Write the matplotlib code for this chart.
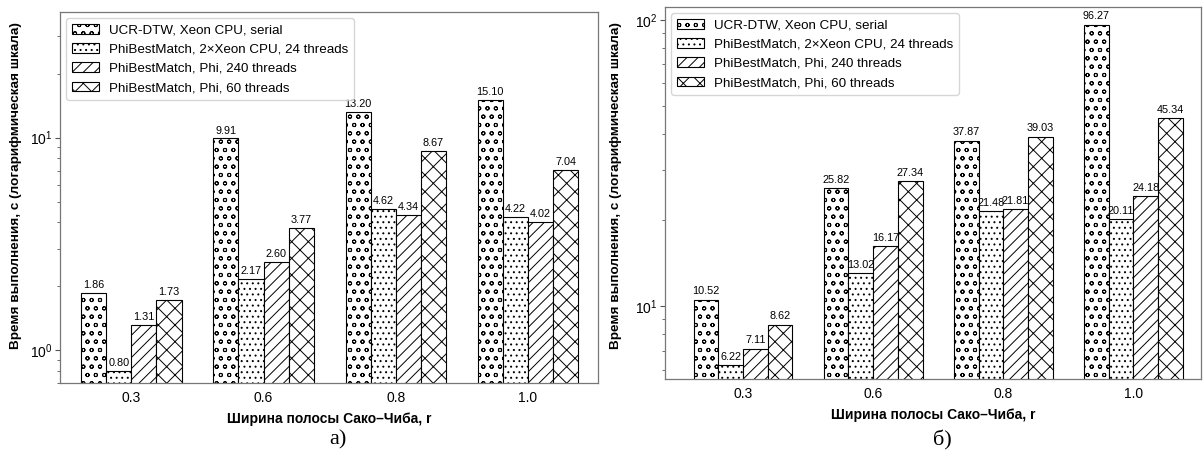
import matplotlib
matplotlib.use("Agg")
import matplotlib.pyplot as plt
import numpy as np
from matplotlib.ticker import LogLocator, NullFormatter

categories = ["0.3", "0.6", "0.8", "1.0"]
series_names = ["UCR-DTW, Xeon CPU, serial",
                "PhiBestMatch, 2×Xeon CPU, 24 threads",
                "PhiBestMatch, Phi, 240 threads",
                "PhiBestMatch, Phi, 60 threads"]

# panel a)
a_ucr = [1.86, 9.91, 13.20, 15.10]
a_xeon24 = [0.80, 2.17, 4.62, 4.22]
a_phi240 = [1.31, 2.60, 4.34, 4.02]
a_phi60 = [1.73, 3.77, 8.67, 7.04]

# panel б)
b_ucr = [10.52, 25.82, 37.87, 96.27]
b_xeon24 = [6.22, 13.02, 21.48, 20.11]
b_phi240 = [7.11, 16.17, 21.81, 24.18]
b_phi60 = [8.62, 27.34, 39.03, 45.34]

hatches = ["oo", "...", "///", "xx"]

plt.rcParams['font.family'] = ['Liberation Sans', 'DejaVu Sans']
plt.rcParams['mathtext.fontset'] = 'custom'
plt.rcParams['mathtext.rm'] = 'Liberation Sans'
plt.rcParams['mathtext.it'] = 'Liberation Sans:italic'
plt.rcParams['hatch.linewidth'] = 0.7

fig = plt.figure(figsize=(12.03, 4.5), dpi=100)
ax1 = fig.add_axes([60 / 1203, 0.1489, 538 / 1203, 0.8244])
ax2 = fig.add_axes([665 / 1203, 0.1578, 536 / 1203, 0.8267])

def draw(ax, data, ylim, xlim, ylab_coords):
    x = np.arange(len(categories))
    w = 0.19
    for i, (vals, h, name) in enumerate(zip(data, hatches, series_names)):
        pos = x + (i - 1.5) * w
        bars = ax.bar(pos, vals, w, color="white", edgecolor="black",
                      hatch=h, linewidth=0.8, label=name)
        for b, v in zip(bars, vals):
            ax.text(b.get_x() + b.get_width() / 2, v * 1.03, f"{v:.2f}",
                    ha="center", va="bottom", fontsize=7.8)
    ax.set_yscale("log")
    ax.set_ylim(*ylim)
    ax.set_xlim(*xlim)
    ax.set_xticks(x)
    ax.set_xticklabels(categories, fontsize=10)
    ax.tick_params(axis="x", length=0, pad=6)
    ax.yaxis.set_minor_locator(LogLocator(base=10, subs=np.arange(2, 10)))
    ax.yaxis.set_minor_formatter(NullFormatter())
    ax.tick_params(axis="y", which="major", length=3.5, labelsize=10, color="#555555", pad=2)
    ax.tick_params(axis="y", which="minor", length=2.5, color="#555555")
    for s in ax.spines.values():
        s.set_color("#777777")
        s.set_linewidth(0.9)
    ax.set_xlabel("Ширина полосы Сако–Чиба, r", fontsize=10, fontweight="bold", labelpad=5)
    ax.set_ylabel("Время выполнения, с (логарифмическая шкала)", fontsize=9.7,
                  fontweight="bold")
    ax.yaxis.set_label_coords(*ylab_coords)
    leg = ax.legend(loc="upper left", fontsize=9.6, frameon=True, fancybox=True,
                    handlelength=2.0, handleheight=0.75, borderpad=0.45,
                    labelspacing=0.5, handletextpad=0.75, borderaxespad=0.45)
    leg.get_frame().set_edgecolor("#cccccc")

draw(ax1, [a_ucr, a_xeon24, a_phi240, a_phi60], (0.70, 39.0), (-0.54, 3.53),
     (-0.0706, 0.532))
draw(ax2, [b_ucr, b_xeon24, b_phi240, b_phi60], (5.57, 111), (-0.6, 3.52),
     (-0.08, 0.519))

fig.text(338 / 1203, 1 - 440 / 450, "а)", ha="center", va="center", fontsize=16,
         family="Liberation Serif")
fig.text(942 / 1203, 1 - 440 / 450, "б)", ha="center", va="center", fontsize=16,
         family="Liberation Serif")

fig.savefig("out.png", dpi=100)
